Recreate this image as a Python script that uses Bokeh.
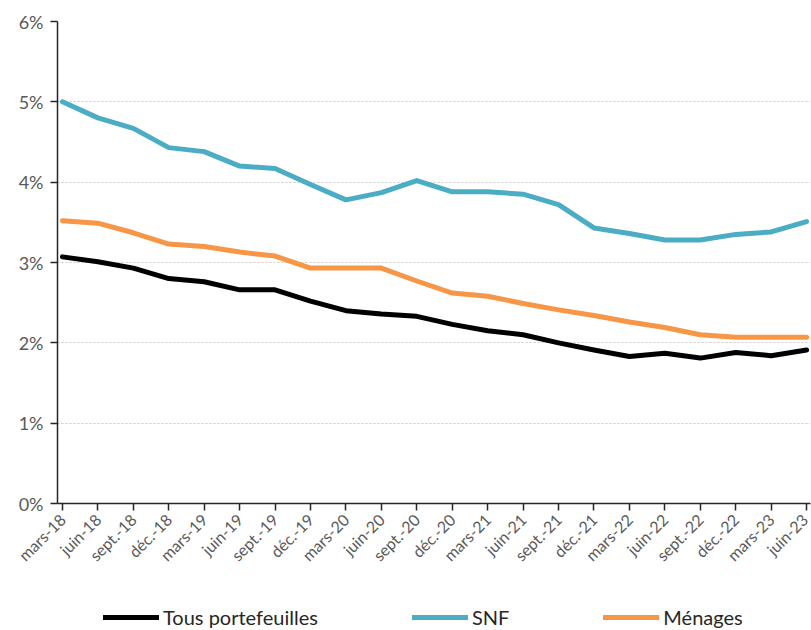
from bokeh.plotting import figure
from bokeh.models import Legend, LegendItem, FixedTicker, Range1d
from bokeh.layouts import column
from bokeh.embed import file_html
from bokeh.resources import INLINE

categories = ["mars-18", "juin-18", "sept.-18", "déc.-18",
              "mars-19", "juin-19", "sept.-19", "déc.-19",
              "mars-20", "juin-20", "sept.-20", "déc.-20",
              "mars-21", "juin-21", "sept.-21", "déc.-21",
              "mars-22", "juin-22", "sept.-22", "déc.-22",
              "mars-23", "juin-23"]

tous = [3.07, 3.01, 2.93, 2.80, 2.76, 2.66, 2.66, 2.52, 2.40, 2.36, 2.33,
        2.23, 2.15, 2.10, 2.00, 1.91, 1.83, 1.87, 1.81, 1.88, 1.84, 1.91]
snf = [5.00, 4.80, 4.67, 4.43, 4.38, 4.20, 4.17, 3.97, 3.78, 3.87, 4.02,
       3.88, 3.88, 3.85, 3.72, 3.43, 3.36, 3.28, 3.28, 3.35, 3.38, 3.51]
menages = [3.52, 3.49, 3.37, 3.23, 3.20, 3.13, 3.08, 2.93, 2.93, 2.93, 2.77,
           2.62, 2.58, 2.49, 2.41, 2.34, 2.26, 2.19, 2.10, 2.07, 2.07, 2.07]

y_ticks = [0, 1, 2, 3, 4, 5, 6]
y_labels = ["0%", "1%", "2%", "3%", "4%", "5%", "6%"]

series_names = ["Tous portefeuilles", "SNF", "Ménages"]
series_colors = ["#000000", "#4BACC6", "#F79646"]
series_values = [tous, snf, menages]

FONT = "Lato"
xs = list(range(len(categories)))

p = figure(width=811, height=581, output_backend="svg", toolbar_location=None,
           x_range=Range1d(-0.14, 21.11), y_range=Range1d(0, 6),
           min_border_left=57, min_border_right=1, min_border_top=21,
           min_border_bottom=78)
p.outline_line_color = None
p.background_fill_color = "white"
p.border_fill_color = "white"

for vals, col in zip(series_values, series_colors):
    p.line(xs, vals, line_color=col, line_width=5, line_join="round", line_cap="round")

# axes
p.xaxis.ticker = FixedTicker(ticks=xs)
p.xaxis.major_label_overrides = {i: c for i, c in enumerate(categories)}
p.xaxis.major_label_orientation = 0.785398
p.xaxis.major_label_text_font = FONT
p.xaxis.major_label_text_font_size = "16px"
p.xaxis.major_label_text_color = "#595959"
p.xaxis.axis_line_color = "#262626"
p.xaxis.axis_line_width = 1.5
p.xaxis.major_tick_line_color = "#262626"
p.xaxis.major_tick_line_width = 1.5
p.xaxis.major_tick_out = 7
p.xaxis.major_tick_in = 0
p.xaxis.minor_tick_line_color = None
p.xaxis.major_label_standoff = 6

p.yaxis.ticker = FixedTicker(ticks=y_ticks)
p.yaxis.major_label_overrides = {t: l for t, l in zip(y_ticks, y_labels)}
p.yaxis.major_label_text_font = FONT
p.yaxis.major_label_text_font_size = "18px"
p.yaxis.major_label_text_color = "#595959"
p.yaxis.axis_line_color = "#262626"
p.yaxis.axis_line_width = 1.5
p.yaxis.major_tick_line_color = "#262626"
p.yaxis.major_tick_line_width = 1.5
p.yaxis.major_tick_out = 7
p.yaxis.major_tick_in = 0
p.yaxis.minor_tick_line_color = None
p.yaxis.major_label_standoff = 7

p.xgrid.grid_line_color = None
p.ygrid.grid_line_color = "#c8c8c8"
p.ygrid.grid_line_dash = "2 2"
p.ygrid.grid_line_width = 1

# legend strip below the chart (its own lines lie outside its visible range)
lg = figure(width=811, height=49, output_backend="svg", toolbar_location=None,
            x_axis_type=None, y_axis_type=None,
            x_range=Range1d(100, 101), y_range=Range1d(100, 101),
            min_border_left=0, min_border_right=0, min_border_top=0, min_border_bottom=0)
lg.outline_line_color = None
lg.background_fill_color = "white"
lg.border_fill_color = "white"
lg_renderers = [lg.line(xs, vals, line_color=c, line_width=5, line_cap="round")
                for vals, c in zip(series_values, series_colors)]
legend = Legend(items=[LegendItem(label=n, renderers=[r]) for n, r in zip(series_names, lg_renderers)],
                location=(46, 1), orientation="horizontal",
                border_line_color=None, background_fill_alpha=0,
                padding=0, margin=0, spacing=94, glyph_width=56, glyph_height=20,
                label_standoff=4, label_text_font=FONT,
                label_text_font_size="20px", label_text_color="#262626")
lg.add_layout(legend, "center")

open("out.html", "w").write(file_html(column(p, lg, spacing=0), INLINE))
